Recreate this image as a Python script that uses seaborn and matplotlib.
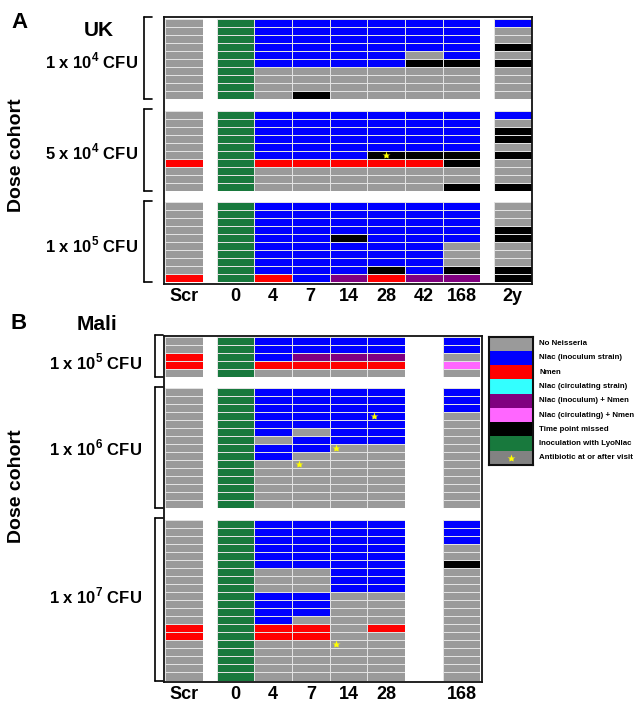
import numpy as np
import matplotlib
matplotlib.use("Agg")
import matplotlib.pyplot as plt
from matplotlib.colors import ListedColormap
from matplotlib.lines import Line2D
import seaborn as sns

# ----------------- Data -----------------
# letter codes: G none, B Nlac inoculum, R Nmen, C Nlac circulating, P Nlac inoc + Nmen,
# M Nlac circ + Nmen, K missed, N inoculation, A antibiotic (legend only)
CODES = "GBRCPMKNA"
LEGEND_LABELS = ["No Neisseria", "Nlac (inoculum strain)", "Nmen",
                 "Nlac (circulating strain)", "Nlac (inoculum) + Nmen",
                 "Nlac (circulating) + Nmen", "Time point missed",
                 "Inoculation with LyoNlac", "Antibiotic at or after visit"]

UK_COLS = ["Scr", "0", "4", "7", "14", "28", "42", "168", "2y"]
MALI_COLS = ["Scr", "0", "4", "7", "14", "28", "168"]

UK_1E4 = ["GNBBBBBBB", "GNBBBBBBG", "GNBBBBBBG", "GNBBBBBBK", "GNBBBBGBG",
          "GNBBBBKKK", "GNGGGGGGG", "GNGGGGGGG", "GNGGGGGGG", "GNGKGGGGG"]
UK_5E4 = ["GNBBBBBBB", "GNBBBBBBG", "GNBBBBBBK", "GNBBBBBBK", "GNBBBBBBG",
          "GNBBBKKKK", "RNRRRRRKG", "GNGGGGGGG", "GNGGGGGGG", "GNGGGGGKK"]
UK_1E5 = ["GNBBBBBBG", "GNBBBBBBG", "GNBBBBBBG", "GNBBBBBBK", "GNBBKBBBK",
          "GNBBBBBGG", "GNBBBBBGG", "GNBBBBBGG", "GNBBBKBKK", "RNRBPRPPK"]

MALI_1E5 = ["GNBBBBB", "GNBBBBB", "RNBPPPG", "RNRRRRM", "GNGGGGG"]
MALI_1E6 = ["GNBBBBB", "GNBBBBB", "GNBBBBB", "GNBBBBG", "GNBBBBG",
            "GNBGBBG", "GNGBBBG", "GNBBGGG", "GNBGGGG", "GNGGGGG",
            "GNGGGGG", "GNGGGGG", "GNGGGGG", "GNGGGGG", "GNGGGGG"]
MALI_1E7 = ["GNBBBBB", "GNBBBBB", "GNBBBBB", "GNBBBBG", "GNBBBBG",
            "GNBBBBK", "GNGGBBG", "GNGGBBG", "GNGGBBG", "GNBBGGG",
            "GNBBGGG", "GNBBGGG", "GNBGGGG", "RNRRGRG", "RNRRGGG",
            "GNGGGGG", "GNGGGGG", "GNGGGGG", "GNGGGGG", "GNGGGGG"]

UK_LABELS = ["1 x 10$^{4}$ CFU", "5 x 10$^{4}$ CFU", "1 x 10$^{5}$ CFU"]
MALI_LABELS = ["1 x 10$^{5}$ CFU", "1 x 10$^{6}$ CFU", "1 x 10$^{7}$ CFU"]

# antibiotic stars: (group, row, column)
UK_STARS = [(1, 5, "28")]
MALI_STARS = [(1, 3, "28"), (1, 7, "14"), (1, 9, "7"), (2, 15, "14")]

COLORS = ["#9a9a9a", "#0000ff", "#ff0000", "#33ffff", "#800080",
          "#ff66ff", "#000000", "#18793d", "#828282"]
cmap = ListedColormap(COLORS)

# ----------------- Layout (pixels) -----------------
W, H = 644, 703
CW, GAP = 37.7, 13.5
SLOT = {"Scr": 0, "0": 1, "4": 2, "7": 3, "14": 4, "28": 5, "42": 6, "168": 7, "2y": 8}

sns.set_style("white")
plt.rcParams["font.family"] = ["Liberation Sans", "DejaVu Sans"]
plt.rcParams["font.weight"] = "bold"
plt.rcParams["text.color"] = "black"
plt.rcParams["xtick.color"] = "black"
plt.rcParams["mathtext.fontset"] = "custom"
plt.rcParams["mathtext.rm"] = "Liberation Sans:bold"
plt.rcParams["mathtext.bf"] = "Liberation Sans:bold"

fig = plt.figure(figsize=(W / 100, H / 100), dpi=100)


def px_axes(x0, y0, x1, y1):
    return fig.add_axes([x0 / W, 1 - y1 / H, (x1 - x0) / W, (y1 - y0) / H])


def slot_left(s):
    return 165.3 + s * CW + (s >= 1) * GAP + (s >= 8) * GAP


def to_matrix(rows):
    return np.array([[CODES.index(c) for c in r] for r in rows], dtype=float)


def bracket(x, y0, y1, tick):
    for xs, ys in [([x, x], [y0, y1]), ([x, x + tick], [y0, y0]), ([x, x + tick], [y1, y1])]:
        fig.add_artist(Line2D([v / W for v in xs], [1 - v / H for v in ys],
                              color="black", lw=1.2, transform=fig.transFigure))


def draw_panel(cols, groups, labels, stars, top, rh, rgap, frame, star_x,
               label_y, label_x, br_x, tick_y):
    slots = [SLOT[c] for c in cols]
    # split columns into contiguous blocks
    blocks, cur = [], [0]
    for i in range(1, len(cols)):
        s0, s1 = slots[i - 1], slots[i]
        if s1 - s0 > 1 or s1 == 1 or s1 == 8:
            blocks.append(cur)
            cur = []
        cur.append(i)
    blocks.append(cur)

    y = top
    for g, rows in enumerate(groups):
        mat = to_matrix(rows)
        n = len(rows)
        y1 = y + n * rh
        for blk in blocks:
            x0 = slot_left(slots[blk[0]])
            ax = px_axes(x0, y, x0 + CW * len(blk), y1)
            sns.heatmap(mat[:, blk], ax=ax, cmap=cmap, vmin=-0.5, vmax=8.5, cbar=False,
                        linewidths=0.6, linecolor="#e2e2e2",
                        xticklabels=False, yticklabels=False)
            for sg, sr, sc in stars:
                ci = cols.index(sc)
                if sg == g and ci in blk:
                    ax.plot(blk.index(ci) + star_x, sr + 0.5, marker="*", ms=6,
                            color="#ffff00", mec="none")
        fig.text(label_x / W, 1 - label_y[g] / H, labels[g], ha="right", va="center",
                 fontsize=12, fontweight="bold")
        bracket(br_x, y - 1.5, y1, 8)
        y = y1 + rgap

    fx0, fy0, fx1, fy1 = frame
    fa = px_axes(fx0, fy0, fx1, fy1)
    fa.set_zorder(5)
    fa.patch.set_alpha(0)
    fa.set_xlim(fx0, fx1)
    fa.set_ylim(fy1, fy0)
    fa.set_xticks([slot_left(s) + CW / 2 for s in slots])
    fa.set_xticklabels(cols, fontsize=13, fontweight="bold")
    fa.set_yticks([])
    fa.tick_params(axis="x", length=0, pad=tick_y)
    for sp in fa.spines.values():
        sp.set_visible(True)
        sp.set_color("#111111")
        sp.set_linewidth(1.3)


draw_panel(UK_COLS, [UK_1E4, UK_5E4, UK_1E5], UK_LABELS, UK_STARS,
           top=18.7, rh=8.0, rgap=11.8, frame=(164, 17, 532, 283.5), star_x=0.5,
           label_y=[61, 152, 245], label_x=138, br_x=143.5, tick_y=3)
draw_panel(MALI_COLS, [MALI_1E5, MALI_1E6, MALI_1E7], MALI_LABELS, MALI_STARS,
           top=336.5, rh=8.03, rgap=11.4, frame=(164, 336, 482, 681.5), star_x=0.18,
           label_y=[362, 448, 596], label_x=142, br_x=154.5, tick_y=3)

# ----------------- Titles -----------------
fig.text(11 / W, 1 - 23 / H, "A", fontsize=16, fontweight="bold", va="center")
fig.text(99 / W, 1 - 31 / H, "UK", fontsize=15, fontweight="bold", va="center", ha="center")
fig.text(11 / W, 1 - 324 / H, "B", fontsize=16, fontweight="bold", va="center")
fig.text(97 / W, 1 - 325 / H, "Mali", fontsize=15, fontweight="bold", va="center", ha="center")
fig.text(17 / W, 1 - 155 / H, "Dose cohort", fontsize=14, fontweight="bold",
         rotation=90, va="center", ha="center")
fig.text(17 / W, 1 - 486 / H, "Dose cohort", fontsize=14, fontweight="bold",
         rotation=90, va="center", ha="center")

# ----------------- Legend -----------------
lx0, ly0, lx1, ly1 = 488.5, 336.5, 533, 465
lax = px_axes(lx0, ly0, lx1, ly1)
sns.heatmap(np.arange(len(LEGEND_LABELS), dtype=float).reshape(-1, 1), ax=lax, cmap=cmap,
            vmin=-0.5, vmax=8.5, cbar=False, xticklabels=False, yticklabels=False)
lax.plot(0.5, len(LEGEND_LABELS) - 0.5, marker="*", ms=6, color="#ffff00", mec="none")
for sp in lax.spines.values():
    sp.set_visible(True)
    sp.set_color("#111111")
    sp.set_linewidth(1.5)
step = (ly1 - ly0) / len(LEGEND_LABELS)
for i, lab in enumerate(LEGEND_LABELS):
    fig.text(539 / W, 1 - (ly0 + step * (i + 0.5)) / H, lab, fontsize=5.7,
             fontweight="bold", va="center", ha="left")

fig.savefig("out.png", dpi=100)
